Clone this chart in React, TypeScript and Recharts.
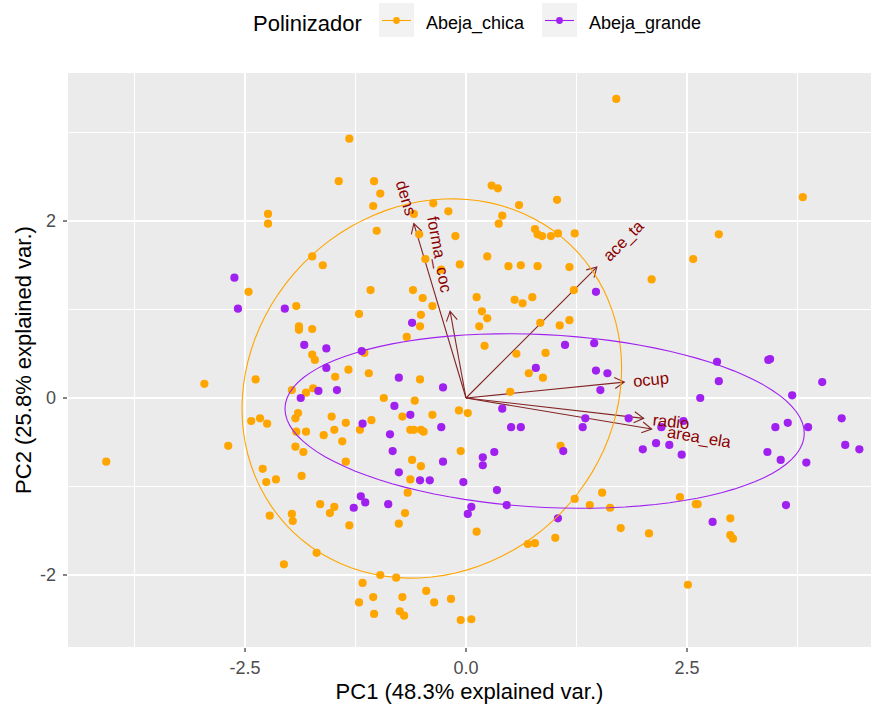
import { ScatterChart, Scatter, XAxis, YAxis, CartesianGrid, ReferenceLine } from 'recharts'

const ORANGE = '#FFA500'
const PURPLE = '#A020F0'
const ARROW = '#832424'
const LABEL = '#8B0000'
const FONT = '"Liberation Sans", Arial, sans-serif'

const groups = ['Abeja_chica', 'Abeja_grande']
const groupColors = [ORANGE, PURPLE]

// PCA scores, Abeja_chica
const chicaPC1 = [
  -2.24, -2.24, -1.74, -1.62, -1.32, -1.44, -1.04, -0.97, -1.05, -0.37,
  -0.59, -0.2, -1.01, -0.53, -0.12, -0.46, -0.07, 0.29, 0.36, 0.6,
  1.03, 0.41, 0.37, 0.24, 0.78, 0.81, 0.86, 0.96, 1.04, 1.23,
  0.48, 0.62, 0.81, 1.17, -0.28, 1.7, 3.81, 2.86, 2.57, -2.46,
  -1.92, -1.89, -1.89, -1.74, -1.74, -1.71, -1.48, -2.38, -2.96, -1.97,
  -1.81, -1.73, -1.9, -1.93, -1.52, -2.43, -2.33, -2.25, -1.92, -1.81,
  -1.49, -1.61, -2.69, -1.93, -1.84, -1.08, -0.6, -0.49, -0.38, 0.12,
  0.55, 0.64, 0.75, 1.22, -1.21, -0.51, -0.52, 0.18, 0.24, 0.15,
  0.84, 1.06, 1.17, -0.67, -1.15, 0.21, 0.57, 0.9, -1.33, -1.1,
  -0.52, 0.71, 0.87, 0.5, -0.93, -0.58, -0.08, 0.02, -0.72, -0.38,
  -1.36, -1.07, -1.2, -0.63, -0.59, -0.51, -0.48, -1.4, -0.06, 1.07,
  2.1, -4.07, -2.3, -2.26, -2.15, -1.86, -1.65, -1.49, -1.54, -2.22,
  -1.97, -1.96, -1.69, -2.06, -1.36, -0.61, -0.51, -0.63, -0.66, -0.69,
  -1.32, -0.76, 0.12, 1.23, 1.4, 1.54, 0.7, 0.78, 1.01, -0.97,
  -0.79, -1.17, -1.21, -1.05, -0.45, -0.72, -0.36, -0.17, -0.75, -0.7,
  -1.04, -0.06, 0.06, 2.42, 2.6, 2.62, 1.63, 2.99, 1.75, 2.07,
  2.99, 3.02, 2.51,
]
const chicaPC2 = [
  2.08, 1.97, 1.6, 1.5, 2.93, 2.45, 2.45, 2.31, 2.17, 2.2,
  2.08, 2.11, 1.89, 1.85, 1.83, 1.57, 1.51, 2.4, 2.37, 2.18,
  2.24, 2.06, 1.97, 1.6, 1.91, 1.85, 1.83, 1.83, 1.86, 1.86,
  1.49, 1.5, 1.49, 1.48, 1.45, 3.38, 2.27, 1.85, 1.57, 1.2,
  1.04, 0.81, 0.77, 0.78, 0.49, 0.43, 0.24, 0.21, 0.16, 0.09,
  0.06, 0.11, -0.17, -0.23, -0.21, -0.26, -0.23, -0.29, -0.38, -0.38,
  -0.36, -0.42, -0.54, -0.55, -0.61, 1.22, 1.22, 1.13, 1.04, 1.14,
  1.11, 1.07, 1.14, 1.22, 0.95, 0.94, 0.81, 0.98, 0.9, 0.81,
  0.85, 0.82, 0.88, 0.69, 0.51, 0.59, 0.5, 0.51, 0.32, 0.28,
  0.21, 0.28, 0.23, 0.07, 0.0, -0.03, -0.14, -0.17, -0.21, -0.19,
  -0.28, -0.25, -0.36, -0.36, -0.36, -0.36, -0.38, -0.49, -0.6, -0.54,
  1.34, -0.72, -0.8, -0.95, -0.92, -0.88, -1.2, -1.23, -1.3, -1.33,
  -1.31, -1.39, -1.75, -1.88, -0.72, -0.7, -0.77, -0.92, -1.07, -1.3,
  -1.44, -1.42, -1.51, -1.14, -1.21, -1.07, -1.65, -1.64, -1.58, -2.0,
  -2.03, -2.09, -2.31, -2.25, -2.18, -2.25, -2.31, -2.27, -2.41, -2.46,
  -2.44, -2.51, -2.5, -1.12, -1.2, -1.2, -1.24, -1.36, -1.47, -1.53,
  -1.55, -1.59, -2.11,
]

// PCA scores, Abeja_grande
const grandePC1 = [
  -2.62, -2.58, -2.05, -1.83, -1.58, -1.58, -1.67, -1.87, -1.46, 1.47,
  -0.61, -1.18, 1.12, 1.45, -0.76, -0.26, 0.79, 1.47, 1.6, 1.52,
  -0.81, 0.41, -0.63, -1.17, -0.28, -0.86, 0.51, 0.62, 1.35, 1.32,
  -0.83, 0.19, 0.32, 1.1, 2.84, 3.42, 3.44, 2.86, 4.03, 3.69,
  2.65, 1.84, 2.46, 2.21, 2.15, 2.3, 2.0, 2.44, 3.5, 3.64,
  3.87, 4.25, 4.29, 4.45, 3.41, -0.26, 0.19, -0.76, -0.52, -0.41,
  -0.03, 0.35, -1.19, -1.14, -0.88, -1.27, 0.06, 0.02, 0.46, 1.04,
  3.56, 3.85, 3.62, 2.79,
]
const grandePC2 = [
  1.36, 1.01, 1.01, 0.6, 0.56, 0.34, 0.08, 0.0, 0.09, 1.2,
  0.85, 0.53, 0.6, 0.62, 0.23, 0.12, 0.34, 0.31, 0.28, 0.09,
  -0.09, -0.12, -0.19, -0.29, -0.33, -0.41, -0.33, -0.33, -0.23, -0.33,
  -0.6, -0.67, -0.61, -0.6, 0.41, 0.43, 0.44, 0.19, 0.18, 0.03,
  0.0, -0.23, -0.26, -0.33, -0.51, -0.53, -0.58, -0.64, -0.33, -0.28,
  -0.33, -0.23, -0.53, -0.58, -0.61, -0.72, -0.76, -0.84, -0.93, -0.93,
  -0.95, -1.04, -1.11, -1.18, -1.2, -1.24, -1.23, -1.31, -1.21, -1.36,
  -0.7, -0.73, -1.21, -1.4,
]

// variable loadings (arrow tips)
const variables = ['dens', 'forma_coc', 'ace_ta', 'ocup', 'radio', 'area_ela']
const loadPC1 = [-0.59, -0.18, 1.48, 1.79, 2.01, 2.1]
const loadPC2 = [1.97, 0.98, 1.48, 0.18, -0.23, -0.35]

const xTicks = [-2.5, 0, 2.5]
const yTicks = [-2, 0, 2]
const xMinor = [-3.75, -1.25, 1.25, 3.75]
const yMinor = [-1, 1, 3]

const ellipseProb = 0.68

function toPoints(xs: number[], ys: number[]) {
  return xs.map((x, i) => ({ x, y: ys[i] }))
}

// normal-probability ellipse as in ggbiplot (mean + chol(cov) * circle)
function dataEllipse(xs: number[], ys: number[], n = 100) {
  const len = xs.length
  const mx = xs.reduce((a, b) => a + b, 0) / len
  const my = ys.reduce((a, b) => a + b, 0) / len
  let sxx = 0
  let syy = 0
  let sxy = 0
  for (let i = 0; i < len; i++) {
    sxx += (xs[i] - mx) ** 2
    syy += (ys[i] - my) ** 2
    sxy += (xs[i] - mx) * (ys[i] - my)
  }
  sxx /= len - 1
  syy /= len - 1
  sxy /= len - 1
  const a = Math.sqrt(sxx)
  const b = sxy / a
  const c = Math.sqrt(syy - b * b)
  const ed = Math.sqrt(-2 * Math.log(1 - ellipseProb))
  const pts = []
  for (let i = 0; i <= n; i++) {
    const t = -Math.PI + (2 * Math.PI * i) / n
    pts.push({
      x: mx + ed * Math.cos(t) * a,
      y: my + ed * (Math.cos(t) * b + Math.sin(t) * c),
    })
  }
  return pts
}

const measureCtx =
  typeof document !== 'undefined' ? document.createElement('canvas').getContext('2d') : null

function textWidth(s: string, size: number) {
  if (!measureCtx) return s.length * size * 0.5
  measureCtx.font = `${size}px "Liberation Sans"`
  return measureCtx.measureText(s).width
}

function Arrow(props: any) {
  const { x1, y1, x2, y2 } = props
  const ang = Math.atan2(y2 - y1, x2 - x1)
  const len = 11
  const spread = Math.PI / 6
  const ax = x2 - len * Math.cos(ang - spread)
  const ay = y2 - len * Math.sin(ang - spread)
  const bx = x2 - len * Math.cos(ang + spread)
  const by = y2 - len * Math.sin(ang + spread)
  return (
    <g>
      <line x1={x1} y1={y1} x2={x2} y2={y2} stroke={ARROW} strokeWidth={1.1} />
      <polyline points={`${ax},${ay} ${x2},${y2} ${bx},${by}`} fill="none" stroke={ARROW} strokeWidth={1.1} />
    </g>
  )
}

function VarLabel(props: any) {
  const { cx, cy, payload } = props
  if (cx == null || cy == null) return <g />
  const size = 16.5
  const rot = (-Math.atan(payload.y / payload.x) * 180) / Math.PI
  const w = textWidth(payload.name, size)
  const right = payload.x >= 0
  return (
    <text
      x={cx}
      y={cy}
      dx={right ? 0.25 * w : -0.25 * w}
      dy="0.35em"
      textAnchor={right ? 'start' : 'end'}
      transform={`rotate(${rot} ${cx} ${cy})`}
      fontSize={size}
      fontFamily={FONT}
      fill={LABEL}
    >
      {payload.name}
    </text>
  )
}

const dot = (color: string) => (p: any) => <circle cx={p.cx} cy={p.cy} r={4.1} fill={color} />

function App() {
  const chica = toPoints(chicaPC1, chicaPC2)
  const grande = toPoints(grandePC1, grandePC2)
  const labels = variables.map((name, i) => ({ x: loadPC1[i], y: loadPC2[i], name }))

  return (
    <div style={{ position: 'absolute', left: 0, top: 0, width: 882, height: 706, background: '#fff' }}>
      <ScatterChart width={882} height={706} margin={{ top: 72, right: 10, bottom: 0, left: 0 }}>
        <CartesianGrid fill="#EBEBEB" fillOpacity={1} stroke="#FFFFFF" strokeWidth={2} />
        {xMinor.map((v) => (
          <ReferenceLine key={`mx${v}`} x={v} stroke="#FFFFFF" strokeWidth={1.1} />
        ))}
        {yMinor.map((v) => (
          <ReferenceLine key={`my${v}`} y={v} stroke="#FFFFFF" strokeWidth={1.1} />
        ))}
        {variables.map((name, i) => (
          <ReferenceLine
            key={name}
            segment={[
              { x: 0, y: 0 },
              { x: loadPC1[i], y: loadPC2[i] },
            ]}
            shape={Arrow}
          />
        ))}
        <XAxis
          type="number"
          dataKey="x"
          domain={[-4.514, 4.593]}
          allowDataOverflow
          ticks={xTicks}
          tickFormatter={(v: number) => v.toFixed(1)}
          height={58}
          tickSize={4}
          tickMargin={9}
          axisLine={false}
          tickLine={{ stroke: '#333333', strokeWidth: 1.2 }}
          tick={{ fill: '#4D4D4D', fontSize: 18, fontFamily: FONT }}
        />
        <YAxis
          type="number"
          dataKey="y"
          domain={[-2.825, 3.684]}
          allowDataOverflow
          ticks={yTicks}
          tickFormatter={(v: number) => String(v)}
          width={67}
          tickSize={4}
          tickMargin={7}
          axisLine={false}
          tickLine={{ stroke: '#333333', strokeWidth: 1.2 }}
          tick={{ fill: '#4D4D4D', fontSize: 18, fontFamily: FONT }}
        />
        <Scatter data={chica} shape={dot(ORANGE)} isAnimationActive={false} />
        <Scatter data={grande} shape={dot(PURPLE)} isAnimationActive={false} />
        <Scatter
          data={dataEllipse(chicaPC1, chicaPC2)}
          line={{ stroke: ORANGE, strokeWidth: 1.1 }}
          shape={() => <g />}
          isAnimationActive={false}
        />
        <Scatter
          data={dataEllipse(grandePC1, grandePC2)}
          line={{ stroke: PURPLE, strokeWidth: 1.1 }}
          shape={() => <g />}
          isAnimationActive={false}
        />
        <Scatter data={labels} shape={VarLabel} isAnimationActive={false} />
      </ScatterChart>

      <svg
        width={882}
        height={706}
        style={{ position: 'absolute', left: 0, top: 0, pointerEvents: 'none' }}
        fontFamily={FONT}
      >
        <text x={469.5} y={699} textAnchor="middle" fontSize={22} fill="#000">
          PC1 (48.3% explained var.)
        </text>
        <text transform="translate(30.5,360) rotate(-90)" textAnchor="middle" fontSize={22} fill="#000">
          PC2 (25.8% explained var.)
        </text>
        <text x={253} y={30.7} fontSize={22} fill="#000">
          Polinizador
        </text>
        {groups.map((g, i) => {
          const kx = i === 0 ? 379 : 542
          const tx = i === 0 ? 426 : 589
          return (
            <g key={g}>
              <rect x={kx} y={3} width={35} height={34} fill="#F2F2F2" />
              <line x1={kx + 3} y1={20.5} x2={kx + 32} y2={20.5} stroke={groupColors[i]} strokeWidth={1.1} />
              <circle cx={kx + 17.5} cy={20.5} r={3.4} fill={groupColors[i]} />
              <text x={tx} y={29} fontSize={18} fill="#000">
                {g}
              </text>
            </g>
          )
        })}
      </svg>
    </div>
  )
}

export default App
